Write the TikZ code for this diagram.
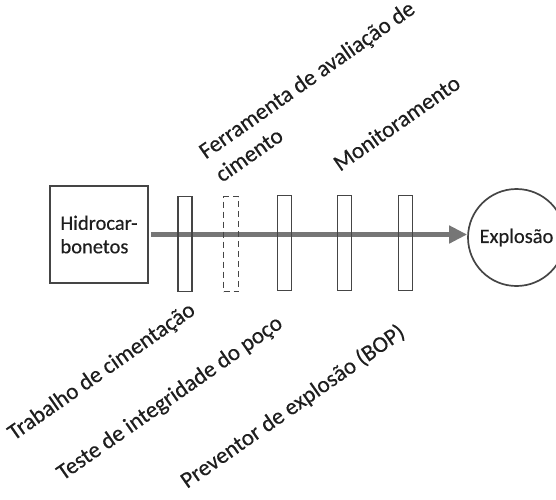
\documentclass[tikz,border=0pt]{standalone}
\usepackage{fontspec}
\setmainfont{Carlito}
\newfontfamily\labelfont{Carlito}[FakeBold=0.35]
\usetikzlibrary{arrows.meta}
\definecolor{edge}{HTML}{454545}
\definecolor{flow}{HTML}{767676}
\definecolor{ink}{HTML}{1E1E1E}
\begin{document}
\begin{tikzpicture}[x=1pt,y=-1pt,
  hazard/.style={draw=edge,line width=1.9pt,minimum width=98pt,minimum height=97pt,
    inner sep=0pt,text=ink,font=\labelfont\fontsize{20.5}{23.5}\selectfont,align=left},
  outcome/.style={draw=edge,line width=1.7pt,circle,minimum size=97pt,inner sep=0pt,
    text=ink,font=\labelfont\fontsize{20.5}{23.5}\selectfont},
  barrier/.style={draw=edge,line width=1.7pt,minimum width=14pt,minimum height=95pt,inner sep=0pt},
  weakbarrier/.style={barrier,dashed,dash pattern=on 6pt off 4pt,minimum width=15pt},
  tag/.style={anchor=base west,rotate=35,text=ink,inner sep=0pt,
    font=\labelfont\fontsize{23}{28.5}\selectfont,align=left},
  path/.style={draw=flow,line width=5.5pt,-{Triangle[length=18pt,width=17pt]}}]
\useasboundingbox (0,0) rectangle (556,499);

\node[hazard] (h) at (99,234.5) {Hidrocar-\\bonetos};
\node[outcome] (x) at (516.5,237.5) {Explosão};

% threat line from the hazard to the top event
\path[path] (h.east) ++(2pt,0) coordinate (s) -- (x.west |- s);

% barriers along the line
\node[barrier] (b1) at (185,244) {};
\node[weakbarrier] (b2) at (231,244) {};
\node[barrier] (b3) at (284.5,243) {};
\node[barrier] (b4) at (344.5,243) {};
\node[barrier] (b5) at (405.5,243) {};

% barrier labels
\node[tag] (l1) at (14,441) {Trabalho de cimentação};
\node[tag] (l2) at (222,183) {Ferramenta de avaliação de\\cimento};
\node[tag] (l3) at (63,481) {Teste de integridade do poço};
\node[tag] (l4) at (340,172) {Monitoramento};
\node[tag] (l5) at (187,489) {Preventor de explosão (BOP)};
\end{tikzpicture}
\end{document}
